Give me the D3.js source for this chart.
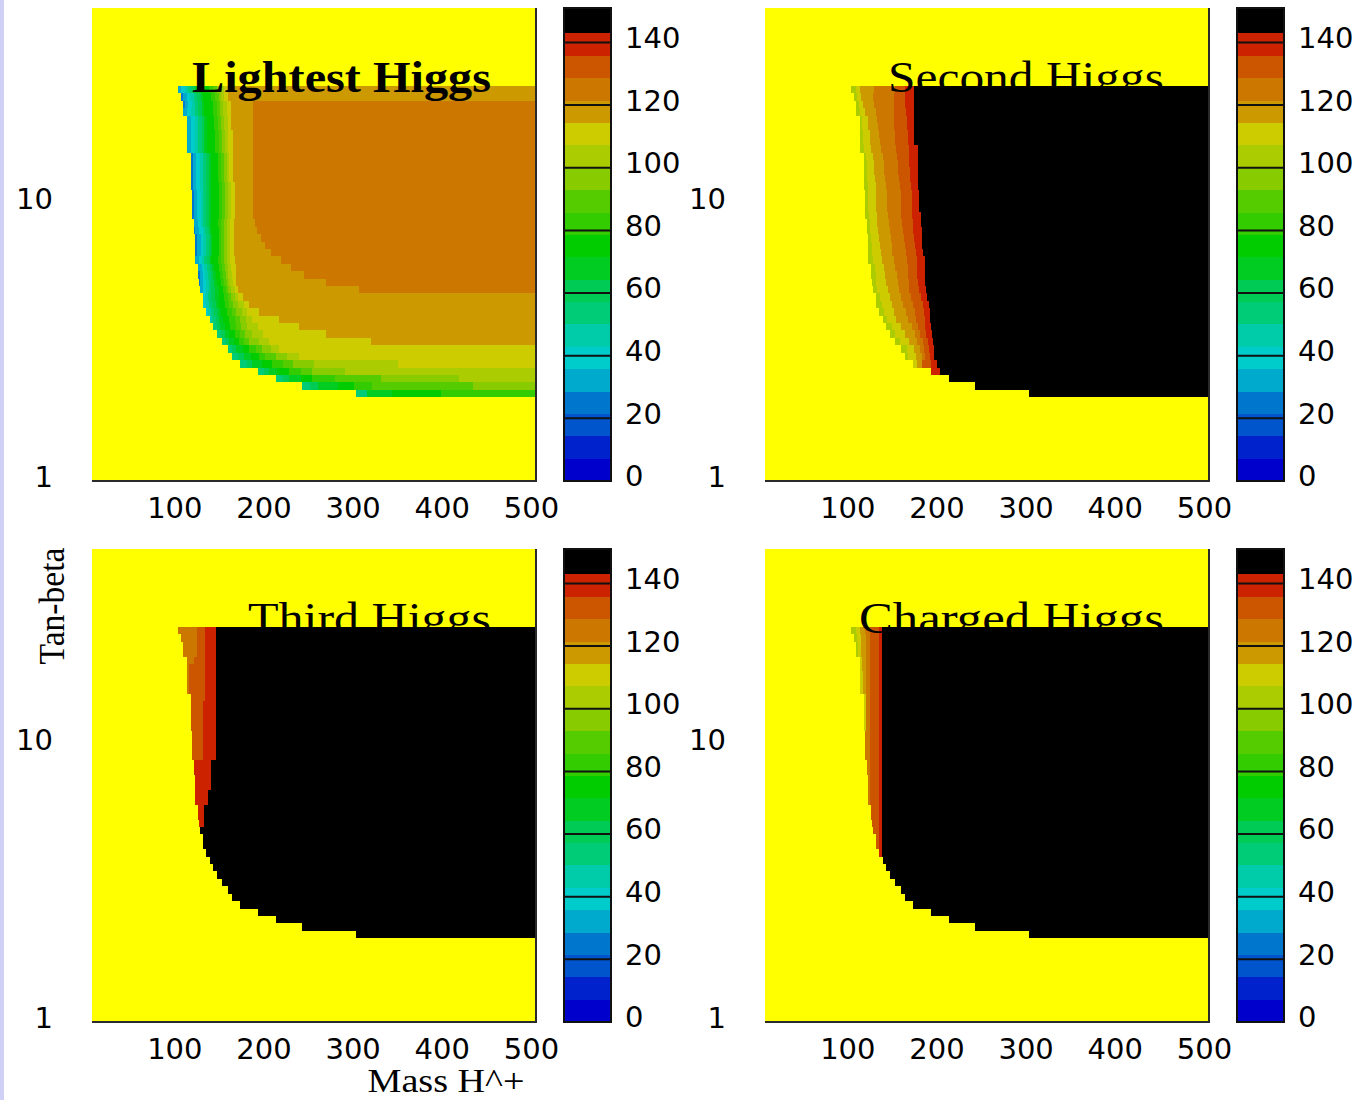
<!DOCTYPE html>
<html>
<head>
<meta charset="utf-8">
<script src="https://cdn.jsdelivr.net/npm/d3@7"></script>
<style>
  body { margin: 0; background: #ffffff; }
  svg { display: block; }
</style>
</head>
<body>
<svg id="chart" width="1370" height="1100"></svg>
<script>
// ---------------------------------------------------------------
// Higgs masses over the (M_H+, tan-beta) plane, four panels.
// Each grid row is one tan-beta bin; within a row the mass rises
// monotonically with M_H+, so a row is stored as the M_H+ value where
// each colour level begins (null = level not reached in that row).
// ---------------------------------------------------------------

// tan-beta bin edges of the grid (log spaced), bottom to top
const tanBetaEdges = [2.000, 2.126, 2.261, 2.404, 2.556, 2.718, 2.889, 3.072, 3.266, 3.473,
  3.692, 3.925, 4.173, 4.437, 4.718, 5.016, 5.333, 5.670, 6.028, 6.409,
  6.814, 7.245, 7.703, 8.190, 8.707, 9.258, 9.843, 10.465, 11.126, 11.829,
  12.577, 13.372, 14.217, 15.116, 16.071, 17.087, 18.167, 19.315, 20.536, 21.834,
  23.214, 24.681, 26.241];

// colour levels (mass in GeV): 21 equal bands, the last one drawn black
const levelBounds = [0, 7.14, 14.29, 21.43, 28.57, 35.71, 42.86, 50, 57.14, 64.29, 71.43,
  78.57, 85.71, 92.86, 100, 107.14, 114.29, 121.43, 128.57, 135.71, 142.86, 151];
const levelColors = ["#0000cc", "#0022cc", "#0055cc", "#0077cc", "#00aacc", "#00cccc", "#00ccaa",
  "#00cc77", "#00cc55", "#00cc22", "#00cc00", "#33cc00", "#55cc00", "#88cc00", "#aacc00",
  "#cccc00", "#cc9900", "#cc7700", "#cc5500", "#cc2200", "#000000"];

const massTicks = [100, 200, 300, 400, 500];
const tanBetaTicks = [1, 10];
const scaleTicks = [0, 20, 40, 60, 80, 100, 120, 140];
const panelTitles = ["Lightest Higgs", "Second Higgs", "Third Higgs", "Charged Higgs"];

// Lightest Higgs: levels 3..17
const lightestLevels = [3, 4, 5, 6, 7, 8, 9, 10, 11, 12, 13, 14, 15, 16, 17];
const lightestStarts = [
  [302, 302, 302, 302, 302, 315, 315, 343, 397, null, null, null, null, null, null],
  [242, 242, 242, 242, 242, 251, 260, 282, 300, 320, 433, null, null, null, null],
  [212, 212, 212, 212, 212, 220, 227, 240, 253, 279, 330, 418, null, null, null],
  [192, 192, 192, 192, 192, 199, 205, 213, 227, 240, 253, 290, null, null, null],
  [172, 172, 172, 172, 172, 180, 186, 197, 208, 220, 232, 255, 349, null, null],
  [163, 163, 163, 163, 163, 170, 176, 184, 193, 200, 212, 225, 238, null, null],
  [159, 159, 159, 159, 159, 163, 168, 175, 182, 190, 197, 207, 216, null, null],
  [152, 152, 152, 152, 152, 156, 160, 165, 171, 177, 182, 193, 205, 319, null],
  [146, 146, 146, 146, 146, 151, 155, 160, 166, 172, 178, 186, 198, 268, null],
  [142, 142, 142, 142, 142, 146, 150, 155, 161, 167, 173, 180, 192, 238, null],
  [138, 138, 138, 138, 141, 145, 149, 153, 160, 166, 172, 179, 186, 216, null],
  [134, 134, 134, 136, 139, 143, 147, 151, 157, 163, 168, 174, 180, 193, null],
  [131, 131, 131, 134, 137, 141, 145, 149, 155, 160, 164, 170, 176, 182, null],
  [130, 130, 130, 133, 136, 140, 144, 148, 154, 158, 162, 166, 170, 175, null],
  [127, 127, 130, 134, 137, 140, 144, 148, 153, 156, 159, 162, 166, 170, 306],
  [126, 127, 130, 134, 137, 140, 143, 146, 151, 154, 157, 160, 164, 168, 269],
  [125, 127, 130, 133, 136, 139, 142, 145, 150, 153, 156, 159, 163, 168, 244],
  [125, 125, 129, 132, 135, 138, 141, 143, 149, 152, 155, 158, 162, 167, 229],
  [122, 122, 126, 129, 132, 135, 138, 140, 147, 151, 154, 157, 161, 166, 218],
  [122, 124, 128, 131, 134, 137, 139, 141, 148, 151, 154, 157, 161, 165, 207],
  [122, 124, 128, 131, 134, 137, 139, 141, 148, 151, 154, 157, 161, 165, 200],
  [122, 124, 128, 131, 134, 137, 139, 141, 148, 151, 154, 157, 161, 165, 196],
  [120, 122, 126, 130, 133, 136, 138, 140, 148, 151, 154, 157, 161, 165, 191],
  [120, 120, 125, 128, 131, 134, 137, 139, 147, 151, 154, 157, 161, 165, 189],
  [118, 120, 124, 128, 131, 134, 137, 139, 148, 152, 155, 158, 162, 166, 187],
  [118, 120, 124, 128, 131, 134, 137, 139, 148, 152, 155, 158, 162, 166, 187],
  [118, 120, 124, 128, 131, 134, 137, 139, 148, 152, 155, 158, 162, 166, 187],
  [118, 120, 124, 128, 131, 134, 137, 139, 148, 152, 155, 158, 162, 166, 187],
  [117, 119, 123, 127, 130, 134, 137, 139, 148, 152, 155, 158, 162, 166, 187],
  [117, 119, 123, 127, 130, 134, 137, 139, 147, 151, 154, 157, 160, 164, 187],
  [117, 119, 123, 127, 130, 134, 137, 139, 147, 151, 154, 157, 160, 164, 187],
  [117, 119, 123, 127, 130, 134, 137, 139, 147, 151, 154, 157, 160, 164, 187],
  [117, 119, 123, 127, 130, 134, 137, 139, 147, 151, 154, 157, 160, 164, 187],
  [113, 113, 117, 121, 125, 129, 132, 135, 144, 148, 152, 155, 159, 164, 187],
  [113, 113, 117, 121, 125, 129, 132, 135, 144, 148, 152, 155, 159, 164, 187],
  [113, 113, 117, 121, 125, 129, 132, 135, 144, 148, 152, 155, 159, 164, 187],
  [112, 112, 117, 121, 125, 129, 132, 135, 143, 147, 151, 154, 158, 162, 187],
  [112, 112, 117, 121, 125, 129, 132, 135, 143, 147, 151, 154, 158, 162, 187],
  [108, 108, 112, 117, 121, 125, 129, 132, 142, 146, 150, 153, 157, 162, 187],
  [108, 110, 114, 118, 121, 125, 129, 132, 142, 146, 150, 153, 157, 162, 187],
  [106, 108, 112, 116, 120, 124, 128, 131, 140, 144, 148, 151, 154, 158, null],
  [103, 103, 106, 110, 114, 118, 122, 126, 137, 142, 146, 150, 154, 158, null]
];

// Second Higgs: levels 14..20
const secondLevels = [14, 15, 16, 17, 18, 19, 20];
const secondStarts = [
  [302, 302, 302, 302, 302, 302, 302],
  [242, 242, 242, 242, 242, 242, 242],
  [212, 212, 212, 212, 212, 212, 212],
  [192, 192, 192, 192, 192, 192, 202],
  [172, 172, 177, 182, 182, 192, 199],
  [163, 166, 175, 182, 185, 191, 196],
  [159, 165, 173, 180, 184, 190, 195],
  [152, 157, 168, 177, 183, 189, 194],
  [146, 152, 163, 174, 180, 187, 193],
  [142, 148, 159, 171, 178, 186, 192],
  [138, 143, 153, 166, 175, 185, 191],
  [134, 140, 151, 164, 174, 184, 191],
  [131, 137, 148, 161, 172, 183, 190],
  [130, 135, 146, 158, 170, 181, 188],
  [127, 132, 144, 156, 168, 179, 187],
  [126, 131, 142, 155, 167, 178, 186],
  [125, 130, 141, 154, 166, 177, 186],
  [125, 129, 139, 152, 166, 177, 186],
  [122, 127, 137, 151, 165, 176, 185],
  [122, 126, 136, 149, 164, 175, 183],
  [122, 126, 135, 148, 163, 174, 182],
  [122, 125, 134, 147, 162, 173, 182],
  [120, 124, 133, 146, 161, 172, 182],
  [120, 124, 132, 145, 160, 172, 181],
  [118, 123, 132, 144, 159, 171, 181],
  [118, 122, 131, 143, 158, 171, 179],
  [118, 122, 131, 143, 158, 171, 179],
  [118, 122, 130, 143, 158, 171, 179],
  [117, 121, 130, 142, 157, 170, 178],
  [117, 120, 129, 141, 156, 169, 178],
  [117, 120, 128, 140, 155, 169, 178],
  [117, 120, 128, 139, 155, 168, 178],
  [117, 119, 127, 138, 154, 168, 178],
  [113, 117, 125, 136, 153, 167, 178],
  [113, 116, 124, 135, 152, 166, 173],
  [113, 116, 124, 134, 152, 166, 173],
  [112, 115, 122, 133, 151, 165, 173],
  [112, 115, 121, 132, 151, 165, 173],
  [108, 112, 118, 130, 151, 164, 173],
  [108, 111, 116, 128, 151, 163, 173],
  [106, 109, 114, 127, 151, 163, 173],
  [103, 108, 113, 128, 152, 163, 173]
];

// Third Higgs: levels 17..20
const thirdLevels = [17, 18, 19, 20];
const thirdStarts = [
  [302, 302, 302, 302], [242, 242, 242, 242], [212, 212, 212, 212], [192, 192, 192, 192],
  [172, 172, 172, 172], [163, 163, 163, 163], [159, 159, 159, 159], [152, 152, 152, 152],
  [146, 146, 146, 146], [142, 142, 142, 142], [138, 138, 138, 138], [134, 134, 134, 134],
  [131, 131, 131, 131], [130, 130, 130, 130], [127, 127, 127, 127],
  [126, 126, 126, 132], [125, 125, 125, 132], [125, 125, 125, 132],
  [122, 122, 122, 136], [122, 122, 122, 136], [122, 122, 122, 140], [122, 122, 122, 140],
  [120, 120, 120, 140], [120, 120, 120, 140],
  [118, 118, 130, 145], [118, 118, 130, 145], [118, 118, 130, 145], [118, 118, 130, 145],
  [117, 117, 130, 145], [117, 117, 130, 145], [117, 117, 130, 145], [117, 117, 130, 145],
  [117, 117, 133, 145], [113, 115, 133, 145], [113, 115, 133, 145], [113, 115, 133, 145],
  [112, 115, 133, 145], [112, 120, 133, 145], [108, 124, 133, 145], [108, 124, 133, 145],
  [106, 124, 133, 145], [103, 124, 133, 145]
];

// Charged Higgs: levels 14..20
const chargedLevels = [14, 15, 16, 17, 18, 19, 20];
const chargedStarts = [
  [302, 302, 302, 302, 302, 302, 302],
  [242, 242, 242, 242, 242, 242, 242],
  [212, 212, 212, 212, 212, 212, 212],
  [192, 192, 192, 192, 192, 192, 192],
  [172, 172, 172, 172, 172, 172, 172],
  [163, 163, 163, 163, 163, 163, 163],
  [159, 159, 159, 159, 159, 159, 159],
  [152, 152, 152, 152, 152, 152, 152],
  [146, 146, 146, 146, 146, 146, 146],
  [142, 142, 142, 142, 142, 142, 142],
  [138, 138, 138, 138, 138, 138, 138],
  [134, 134, 134, 134, 134, 134, 137],
  [131, 131, 131, 131, 131, 134, 137],
  [130, 130, 130, 130, 130, 134, 137],
  [127, 127, 127, 127, 127, 134, 137],
  [126, 126, 126, 126, 126, 134, 137],
  [125, 125, 125, 125, 125, 134, 137],
  [125, 125, 125, 125, 125, 134, 137],
  [122, 122, 122, 122, 124, 134, 137],
  [122, 122, 122, 122, 124, 134, 137],
  [122, 122, 122, 122, 124, 134, 137],
  [122, 122, 122, 122, 124, 134, 137],
  [120, 120, 120, 120, 124, 134, 137],
  [120, 120, 120, 120, 124, 134, 137],
  [118, 118, 118, 118, 124, 134, 137],
  [118, 118, 118, 118, 124, 134, 137],
  [118, 118, 118, 118, 124, 134, 137],
  [118, 118, 118, 118, 124, 134, 137],
  [117, 117, 119, 119, 124, 134, 137],
  [117, 117, 119, 119, 124, 134, 137],
  [117, 117, 119, 119, 124, 134, 137],
  [117, 117, 119, 119, 124, 134, 137],
  [117, 117, 119, 119, 124, 134, 137],
  [113, 113, 116, 119, 124, 134, 137],
  [113, 113, 116, 119, 124, 134, 137],
  [113, 113, 116, 119, 124, 134, 137],
  [112, 112, 115, 119, 124, 134, 137],
  [112, 112, 115, 119, 124, 134, 137],
  [108, 110, 114, 119, 124, 134, 137],
  [108, 110, 114, 119, 124, 134, 137],
  [106, 109, 114, 119, 124, 134, 137],
  [103, 108, 113, 118, 124, 134, 137]
];

// ---------------------------------------------------------------
// layout
// ---------------------------------------------------------------
const massDomain = [6, 504];
const tanBetaDomain = [1, 50];
const plotW = 444, plotH = 473;
const barGap = 28, barW = 47;
const outsideColor = "#ffff00";
const numFont = "'DejaVu Sans', sans-serif";
const serifFont = "'Liberation Serif', 'DejaVu Serif', serif";

const panels = [
  { title: panelTitles[0], levels: lightestLevels, starts: lightestStarts, x0: 92,  y0: 8,   bold: true,  titleLen: 299 },
  { title: panelTitles[1], levels: secondLevels,   starts: secondStarts,   x0: 765, y0: 8,   bold: false, titleLen: 276 },
  { title: panelTitles[2], levels: thirdLevels,    starts: thirdStarts,    x0: 92,  y0: 549, bold: false, titleLen: 243 },
  { title: panelTitles[3], levels: chargedLevels,  starts: chargedStarts,  x0: 765, y0: 549, bold: false, titleLen: 305 }
];

const svg = d3.select("#chart");
svg.append("rect").attr("width", 1370).attr("height", 1100).attr("fill", "#ffffff");
svg.append("rect").attr("x", 0).attr("y", 0).attr("width", 4).attr("height", 1100).attr("fill", "#d0d0f6");

function drawPanel(p) {
  const g = svg.append("g");
  const x = d3.scaleLinear().domain(massDomain).range([p.x0, p.x0 + plotW]);
  const y = d3.scaleLog().domain(tanBetaDomain).range([p.y0 + plotH, p.y0]);

  // region outside the computed grid
  g.append("rect")
    .attr("x", p.x0).attr("y", p.y0)
    .attr("width", plotW).attr("height", plotH)
    .attr("fill", outsideColor);

  // one cell per (tan-beta row, colour level)
  const cells = [];
  p.starts.forEach((row, i) => {
    row.forEach((s, j) => {
      if (s === null) return;
      const next = j + 1 < row.length ? row[j + 1] : null;
      const e = next === null ? massDomain[1] : next;
      if (e <= s) return;
      cells.push({ t0: tanBetaEdges[i], t1: tanBetaEdges[i + 1], m0: s, m1: e, level: p.levels[j] });
    });
  });

  g.append("g").attr("shape-rendering", "crispEdges")
    .selectAll("rect").data(cells).join("rect")
    .attr("x", d => x(d.m0))
    .attr("width", d => x(d.m1) - x(d.m0))
    .attr("y", d => y(d.t1))
    .attr("height", d => y(d.t0) - y(d.t1))
    .attr("fill", d => levelColors[d.level]);

  // frame: right and bottom edges
  g.append("path")
    .attr("d", `M${p.x0},${p.y0 + plotH} H${p.x0 + plotW} V${p.y0}`)
    .attr("fill", "none").attr("stroke", "#2a2a2a").attr("stroke-width", 2);

  // panel title
  g.append("text")
    .attr("x", p.x0 + 399).attr("y", p.y0 + 84)
    .attr("text-anchor", "end")
    .attr("font-family", serifFont)
    .attr("font-size", 44)
    .attr("font-weight", p.bold ? "bold" : "normal")
    .attr("textLength", p.titleLen)
    .attr("lengthAdjust", "spacingAndGlyphs")
    .attr("fill", "#000")
    .text(p.title);

  // mass tick labels
  g.selectAll("text.mt").data(massTicks).join("text")
    .attr("class", "mt")
    .attr("x", d => x(d) - 1)
    .attr("y", p.y0 + plotH + 37)
    .attr("text-anchor", "middle")
    .attr("font-family", numFont).attr("font-size", 29)
    .attr("fill", "#000")
    .text(d => d);

  // tan-beta tick labels
  g.selectAll("text.tt").data(tanBetaTicks).join("text")
    .attr("class", "tt")
    .attr("x", p.x0 - 39)
    .attr("y", d => y(d) - 4)
    .attr("dy", "0.36em")
    .attr("text-anchor", "end")
    .attr("font-family", numFont).attr("font-size", 29)
    .attr("fill", "#000")
    .text(d => d);

  // colour scale bar
  const bx = p.x0 + plotW + barGap;
  const cy = d3.scaleLinear().domain([0, levelBounds[levelBounds.length - 1]]).range([p.y0 + plotH, p.y0]);
  const bands = levelColors.map((c, k) => ({ lo: levelBounds[k], hi: levelBounds[k + 1], c }));
  g.append("g").attr("shape-rendering", "crispEdges")
    .selectAll("rect").data(bands).join("rect")
    .attr("x", bx).attr("width", barW)
    .attr("y", d => cy(d.hi))
    .attr("height", d => cy(d.lo) - cy(d.hi))
    .attr("fill", d => d.c);
  g.selectAll("line.st").data(scaleTicks.filter(v => v > 0)).join("line")
    .attr("class", "st")
    .attr("x1", bx).attr("x2", bx + barW)
    .attr("y1", d => cy(d)).attr("y2", d => cy(d))
    .attr("stroke", "#111").attr("stroke-width", 2);
  g.append("rect")
    .attr("x", bx).attr("y", p.y0)
    .attr("width", barW).attr("height", plotH)
    .attr("fill", "none").attr("stroke", "#111").attr("stroke-width", 2);
  g.selectAll("text.sl").data(scaleTicks).join("text")
    .attr("class", "sl")
    .attr("x", bx + barW + 14)
    .attr("y", d => cy(d) - 5)
    .attr("dy", "0.36em")
    .attr("font-family", numFont).attr("font-size", 29)
    .attr("fill", "#000")
    .text(d => d);
}

panels.forEach(drawPanel);

// axis titles
svg.append("text")
  .attr("transform", "translate(64,606) rotate(-90)")
  .attr("text-anchor", "middle")
  .attr("font-family", serifFont).attr("font-size", 35)
  .attr("textLength", 117).attr("lengthAdjust", "spacingAndGlyphs")
  .attr("fill", "#000")
  .text("Tan-beta");

svg.append("text")
  .attr("x", 446).attr("y", 1092)
  .attr("text-anchor", "middle")
  .attr("font-family", serifFont).attr("font-size", 33)
  .attr("textLength", 157).attr("lengthAdjust", "spacingAndGlyphs")
  .attr("fill", "#000")
  .text("Mass H^+");
</script>
</body>
</html>
